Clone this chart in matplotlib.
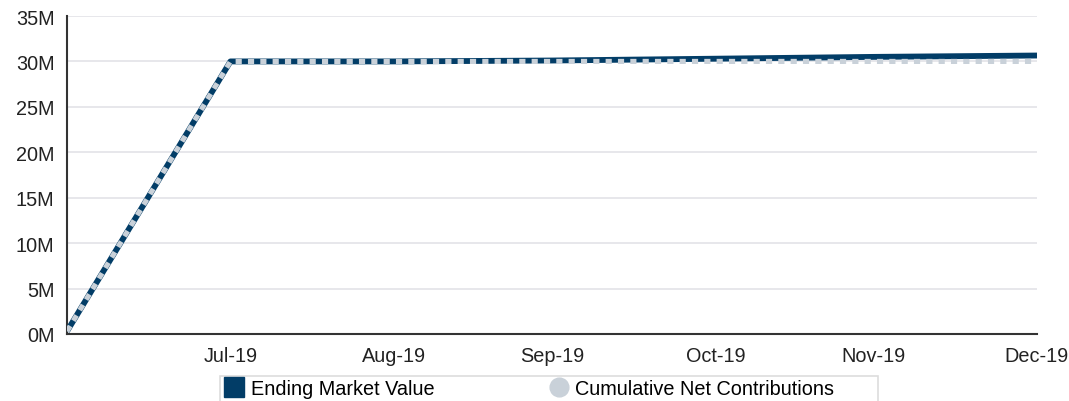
import matplotlib.pyplot as plt
import matplotlib.dates as mdates
import pandas as pd
from matplotlib.lines import Line2D
from matplotlib.patches import Rectangle

plt.rcParams['font.family'] = ['Liberation Sans', 'DejaVu Sans']

# Dados
datas = pd.to_datetime(['2019-06-30', '2019-07-31', '2019-08-31', '2019-09-30',
                        '2019-10-31', '2019-11-30', '2019-12-31'])
valor_mercado = [0.3, 30.0, 30.0, 30.1, 30.3, 30.5, 30.65]  # milhões
contribuicoes = [0.3, 30.0, 30.0, 30.0, 30.0, 30.0, 30.0]  # milhões
rotulos_y = ['0M', '5M', '10M', '15M', '20M', '25M', '30M', '35M']

azul = '#023d67'
cinza = '#c9d1d9'

W, H = 1069, 402
fig = plt.figure(figsize=(W / 100, H / 100), dpi=100)
ax = fig.add_axes([67 / W, 67 / H, (1037 - 67) / W, (335 - 17) / H])

ax.plot(datas, valor_mercado, color=azul, lw=4.2, solid_capstyle='butt', zorder=3)
ax.plot(datas, contribuicoes, color=cinza, lw=3.7, dashes=(1.2, 1.2), zorder=4)

ax.set_ylim(0, 35)
ax.set_yticks(range(0, 36, 5))
ax.set_yticklabels(rotulos_y)
ax.set_xlim(datas[0], datas[-1])
ax.set_xticks(datas[1:])
ax.xaxis.set_major_formatter(mdates.DateFormatter('%b-%y'))

ax.grid(axis='y', color='#e3e3e8', lw=1.2)
ax.set_axisbelow(True)
for s in ['top', 'right']:
    ax.spines[s].set_visible(False)
for s in ['left', 'bottom']:
    ax.spines[s].set_color('#333333')
    ax.spines[s].set_linewidth(1.5)
ax.tick_params(length=0, labelsize=14.3, colors='#222222', pad=9)
ax.tick_params(axis='x', pad=9)
ax.get_xticklabels()[-1].set_x(0)

handles = [
    Line2D([], [], ls='none', marker='s', markersize=14.5, color=azul),
    Line2D([], [], ls='none', marker='o', markersize=13.5, color=cinza),
]
leg = fig.legend(handles, ['Ending Market Value', 'Cumulative Net Contributions'],
                 loc='upper left', bbox_to_anchor=(222 / W, 1 - 378 / H),
                 ncol=2, frameon=False, fontsize=14.3,
                 handletextpad=0.35, borderaxespad=0, borderpad=0.1,
                 handlelength=1.0, columnspacing=5.75)

# moldura da legenda
fig.add_artist(Rectangle((220 / W, -0.05), 658 / W, 0.05 + 1 - 377 / H,
                         transform=fig.transFigure, fill=False,
                         edgecolor='#dddddd', lw=1.2))

fig.savefig('out.png', dpi=100)
